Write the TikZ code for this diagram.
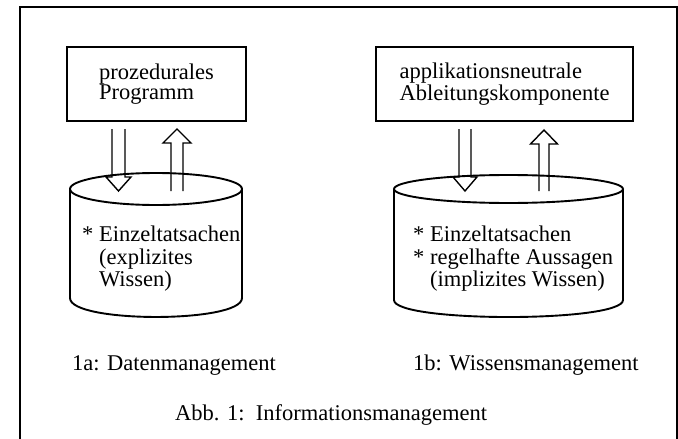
\documentclass[tikz,border=0pt]{standalone}
\usepackage{fontspec}
\setmainfont{Liberation Serif}
\usetikzlibrary{calc}
\begin{document}
\begin{tikzpicture}[x=1pt,y=-1pt,
  frame/.style={line width=1.9pt},
  box/.style={draw, line width=1.9pt, minimum height=74pt, align=left, inner sep=0pt, outer sep=0pt, font=\fontsize{22.5}{18}\selectfont},
  cyl/.style={line width=1.9pt},
  cyltext/.style={align=left, inner sep=0pt, anchor=north west, font=\fontsize{22.5}{22.5}\selectfont},
  lbl/.style={inner sep=0pt, anchor=base west, font=\fontsize{22.5}{26}\selectfont},
  arr/.style={line width=1.4pt, line join=miter}]
\useasboundingbox (0,0) rectangle (678,439);
% outer frame
\draw[frame] (20,439) -- (20,7) -- (677,7) -- (677,439);
% boxes
\node[box, minimum width=179pt] (p1) at (156.5,84) {prozedurales\\Programm};
\node[box, minimum width=257pt] (p2) at (504.5,84) {applikationsneutrale\\Ableitungskomponente};
% cylinders
\coordinate (c1) at (156,189);
\coordinate (c2) at (508.5,189);
\draw[cyl] (70,189) -- (70,298) .. controls (70,323.3) and (242,323.3) .. (242,298) -- (242,189);
\draw[cyl] (c1) ellipse [x radius=86, y radius=16];
\draw[cyl] (394,189) -- (394,300) .. controls (394,322.7) and (623,322.7) .. (623,300) -- (623,189);
\draw[cyl] (c2) ellipse [x radius=114.5, y radius=14];
% arrows left
\draw[arr] ($(p1.south)+(-44.5,8)$) -- ++(0,48) -- ++(-6,0) -- ++(12.5,14) -- ++(12.5,-14) -- ++(-6,0) -- ++(0,-48);
\draw[arr] ($(c1)+(15,2)$) -- ++(0,-48) -- ++(-8,0) -- ++(14,-14) -- ++(14,14) -- ++(-8,0) -- ++(0,48);
% arrows right
\draw[arr] ($(p2.south)+(-45.5,8)$) -- ++(0,48) -- ++(-6,0) -- ++(12,14) -- ++(12,-14) -- ++(-6,0) -- ++(0,-48);
\draw[arr] ($(c2)+(30.5,2)$) -- ++(0,-47) -- ++(-8.5,0) -- ++(13.5,-14) -- ++(13.5,14) -- ++(-8.5,0) -- ++(0,47);
% cylinder texts
\node[cyltext] (t1) at (82,226) {*\ Einzeltatsachen\\\hphantom{*\ }(explizites\\\hphantom{*\ }Wissen)};
\node[cyltext] (t2) at (413,226) {*\ Einzeltatsachen\\*\ regelhafte Aussagen\\\hphantom{*\ }(implizites Wissen)};
% labels
\node[lbl] (l1) at (72,370) {1a: Datenmanagement};
\node[lbl] (l2) at (413,370) {1b: Wissensmanagement};
\node[lbl] (cap) at (175,420) {Abb. 1:\ \ Informationsmanagement};
\end{tikzpicture}
\end{document}
